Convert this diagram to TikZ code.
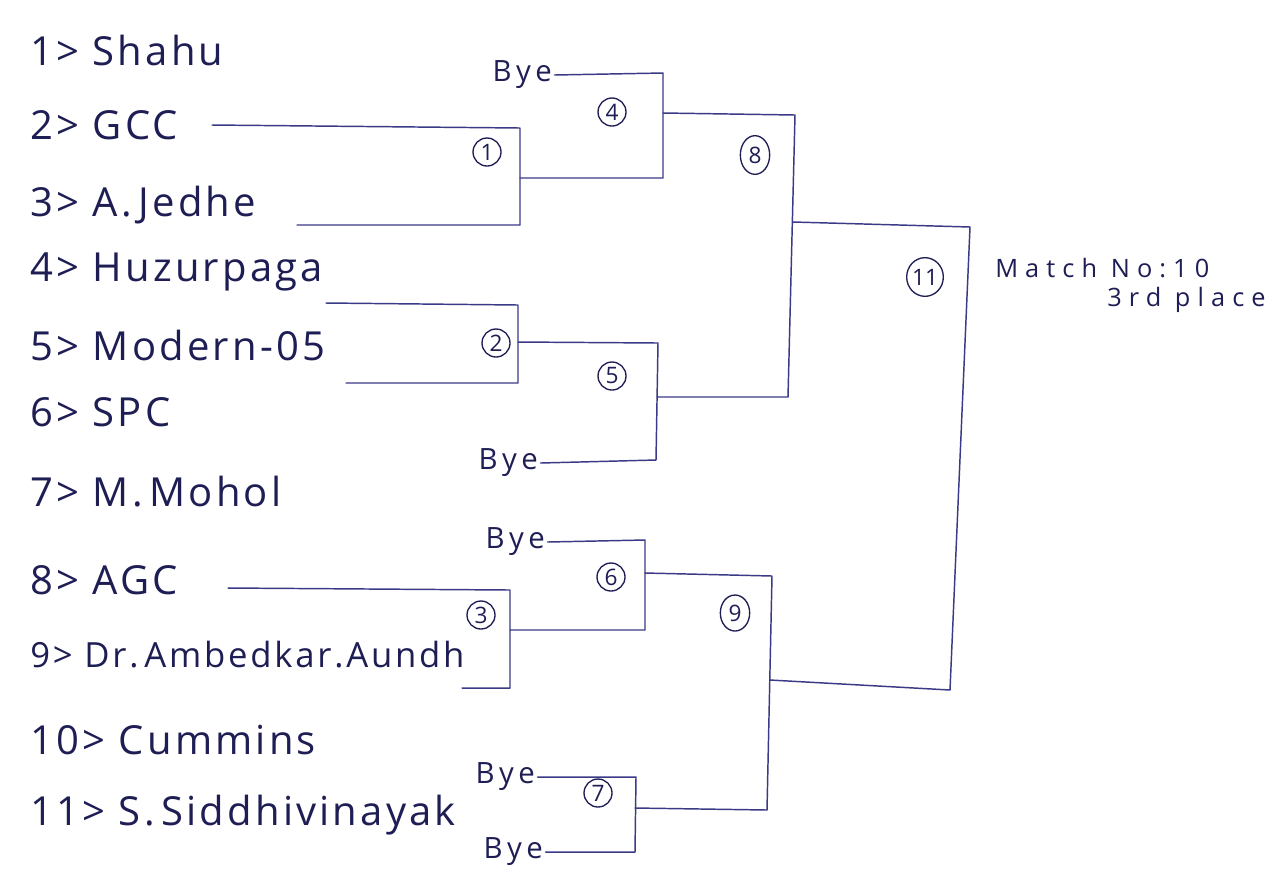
\documentclass[tikz,border=0pt]{standalone}
\usepackage{fontspec}
\usetikzlibrary{shapes.geometric}
\setmainfont{Open Sans}
\definecolor{inkc}{HTML}{3A3A86}
\definecolor{txtc}{HTML}{1E1E55}
\begin{document}
\begin{tikzpicture}[x=0.75pt,y=-0.75pt,
  wire/.style={draw=inkc,line width=1.1pt,line cap=round,line join=round},
  team/.style={anchor=west,text=txtc,font=\fontsize{30}{33}\selectfont\addfontfeature{LetterSpace=8},inner sep=0pt},
  byetxt/.style={anchor=east,text=txtc,font=\fontsize{22}{24}\selectfont\addfontfeature{LetterSpace=15},inner sep=0pt},
  mnum/.style={circle,draw=txtc,line width=1pt,text=txtc,font=\fontsize{17}{19}\selectfont,inner sep=0pt,minimum size=21pt},
  note/.style={anchor=west,text=txtc,font=\fontsize{19}{22}\selectfont\addfontfeature{LetterSpace=28},inner sep=0pt}]
\useasboundingbox[fill=white] (0,0) rectangle (1266,869);

% teams
\node[team] (t1) at (30,50) {1> Shahu};
\node[team] (t2) at (30,125) {2> GCC};
\node[team] (t3) at (30,205) {3> A.\,Jedhe};
\node[team] (t4) at (30,272) {4> Huzurpaga};
\node[team] (t5) at (30,345) {5> Modern-05};
\node[team] (t6) at (30,412) {6> SPC};
\node[team] (t7) at (30,492) {7> M.\,Mohol};
\node[team] (t8) at (30,580) {8> AGC};
\node[team,font=\fontsize{26}{29}\selectfont\addfontfeature{LetterSpace=8}] (t9) at (30,655) {9> Dr.\,Ambedkar.Aundh};
\node[team] (t10) at (30,740) {10> Cummins};
\node[team] (t11) at (30,815) {11> S.\,Siddhivinayak};

% byes
\node[byetxt] (b4) at (552,75) {Bye};
\node[byetxt] (b5) at (538,463) {Bye};
\node[byetxt] (b6) at (545,542) {Bye};
\node[byetxt] (b7a) at (535,777) {Bye};
\node[byetxt] (b7b) at (543,852) {Bye};

% line start coordinates
\coordinate (s2) at (212,125);
\coordinate (s3) at (297,225);
\coordinate (s4) at (326,303);
\coordinate (s5) at (346,383);
\coordinate (s8) at (228,588);
\coordinate (s9) at (462,688);

% match 1
\coordinate (m1t) at (520,128); \coordinate (m1b) at (520,225); \coordinate (m1o) at (520,178);
\draw[wire] (s2) -- (m1t) -- (m1b) -- (s3);
\node[mnum] (c1) at (487,152) {1};
% match 2
\coordinate (m2t) at (518,305); \coordinate (m2b) at (518,383); \coordinate (m2o) at (518,342);
\draw[wire] (s4) -- (m2t) -- (m2b) -- (s5);
\node[mnum] (c2) at (496,343) {2};
% match 3
\coordinate (m3t) at (510,590); \coordinate (m3b) at (510,688); \coordinate (m3o) at (510,630);
\draw[wire] (s8) -- (m3t) -- (m3b) -- (s9);
\node[mnum] (c3) at (481,615) {3};
% match 4
\coordinate (m4t) at (663,73); \coordinate (m4b) at (663,178); \coordinate (m4o) at (663,113);
\draw[wire] ([xshift=2pt]b4.east) -- (m4t) -- (m4b) -- (m1o);
\node[mnum] (c4) at (612,112) {4};
% match 5
\coordinate (m5t) at (658,343); \coordinate (m5b) at (656,460); \coordinate (m5o) at (657,397);
\draw[wire] (m2o) -- (m5t) -- (m5b) -- ([xshift=2pt]b5.east);
\node[mnum] (c5) at (612,376) {5};
% match 6
\coordinate (m6t) at (645,540); \coordinate (m6b) at (645,630); \coordinate (m6o) at (645,573);
\draw[wire] ([xshift=2pt]b6.east) -- (m6t) -- (m6b) -- (m3o);
\node[mnum] (c6) at (611,577) {6};
% match 7
\coordinate (m7t) at (636,777); \coordinate (m7b) at (635,852); \coordinate (m7o) at (635,808);
\draw[wire] ([xshift=2pt]b7a.east) -- (m7t) -- (m7b) -- ([xshift=2pt]b7b.east);
\node[mnum] (c7) at (598,793) {7};
% match 8
\coordinate (m8t) at (795,115); \coordinate (m8b) at (788,397); \coordinate (m8o) at (793,222);
\draw[wire] (m4o) -- (m8t) -- (m8b) -- (m5o);
\node[mnum,ellipse,minimum width=22pt,minimum height=29pt] (c8) at (755,155) {8};
% match 9
\coordinate (m9t) at (772,576); \coordinate (m9b) at (767,810); \coordinate (m9o) at (770,680);
\draw[wire] (m6o) -- (m9t) -- (m9b) -- (m7o);
\node[mnum,ellipse,minimum width=22pt,minimum height=27pt] (c9) at (735,613) {9};
% match 11 (final)
\coordinate (m11t) at (970,227); \coordinate (m11b) at (950,690);
\draw[wire] (m8o) -- (m11t) -- (m11b) -- (m9o);
\node[mnum,ellipse,minimum width=25pt,minimum height=29pt] (c11) at (925,277) {11};

\node[note] (n1) at (995,268) {Match No:10};
\node[note] (n2) at (1107,300) {3rd place};
\end{tikzpicture}
\end{document}
